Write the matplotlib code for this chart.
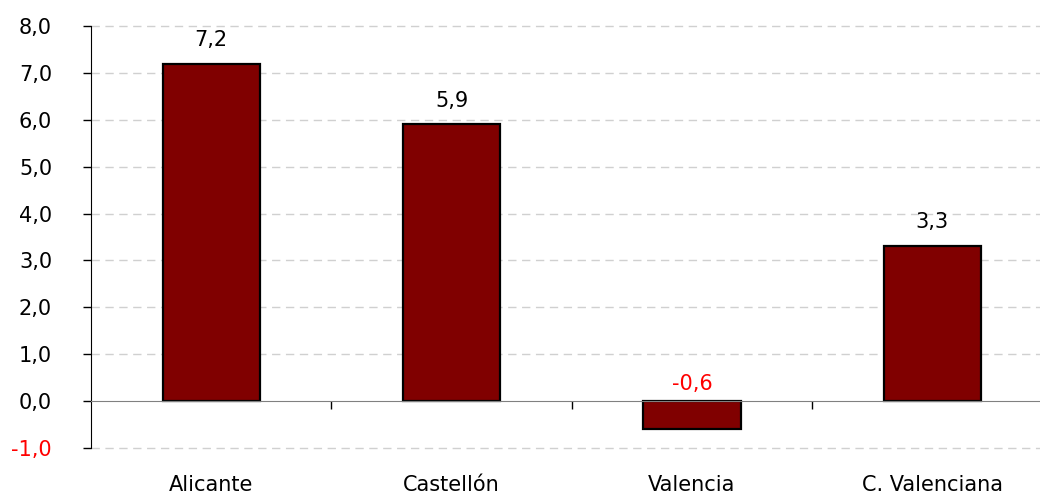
import numpy as np
import matplotlib
matplotlib.use('Agg')
import matplotlib.pyplot as plt
from matplotlib.ticker import FuncFormatter

# datos
categorias = ['Alicante', 'Castellón', 'Valencia', 'C. Valenciana']
valores = [7.2, 5.9, -0.6, 3.3]
y_ticks = [-1, 0, 1, 2, 3, 4, 5, 6, 7, 8]

plt.rcParams['font.family'] = ['DejaVu Sans']
FS = 15

fig = plt.figure(figsize=(10.4, 4.95), dpi=100)
ax = fig.add_axes([91 / 1040, 47 / 495, 1 - 91 / 1040, 422 / 495])

x = np.arange(len(categorias))
ax.bar(x, valores, width=0.405, color='#800000', edgecolor='black', linewidth=1.6, zorder=3)

# etiquetas de valor
for xi, v in zip(x, valores):
    color = 'red' if v < 0 else 'black'
    off = 10 if v >= 0 else 5
    ax.annotate(f'{v:.1f}'.replace('.', ','), (xi, max(v, 0)), xytext=(0, off),
                textcoords='offset points', ha='center', va='bottom',
                fontsize=FS, color=color)

ax.set_ylim(-1, 8)
ax.set_xlim(-0.5, len(categorias) - 0.5 - 12.5 / 240.5)
ax.set_yticks(y_ticks)
ax.yaxis.set_major_formatter(FuncFormatter(lambda v, p: f'{v:.1f}'.replace('.', ',')))
for lbl, t in zip(ax.get_yticklabels(), y_ticks):
    if t < 0:
        lbl.set_color('red')

# rejilla discontinua
for t in y_ticks:
    if t != 0:
        ax.axhline(t, color='#d0d0d0', linestyle=(0, (6, 4)), linewidth=1, zorder=1, clip_on=False)

ax.spines['top'].set_visible(False)
ax.spines['right'].set_visible(False)
ax.spines['left'].set_color('black')
ax.spines['bottom'].set_position(('data', 0))
ax.spines['bottom'].set_color('#808080')
ax.spines['bottom'].set_zorder(4)

ax.tick_params(axis='y', direction='out', length=6, width=1, labelsize=FS, pad=22)
ax.set_xticks(x)
ax.set_xticklabels(categorias)
ax.set_xticks(x[:-1] + 0.5, minor=True)
ax.tick_params(axis='x', which='major', length=0, labelsize=FS, pad=53)
ax.tick_params(axis='x', which='minor', direction='out', length=6, width=1, color='black')

fig.savefig('out.png', dpi=100)
